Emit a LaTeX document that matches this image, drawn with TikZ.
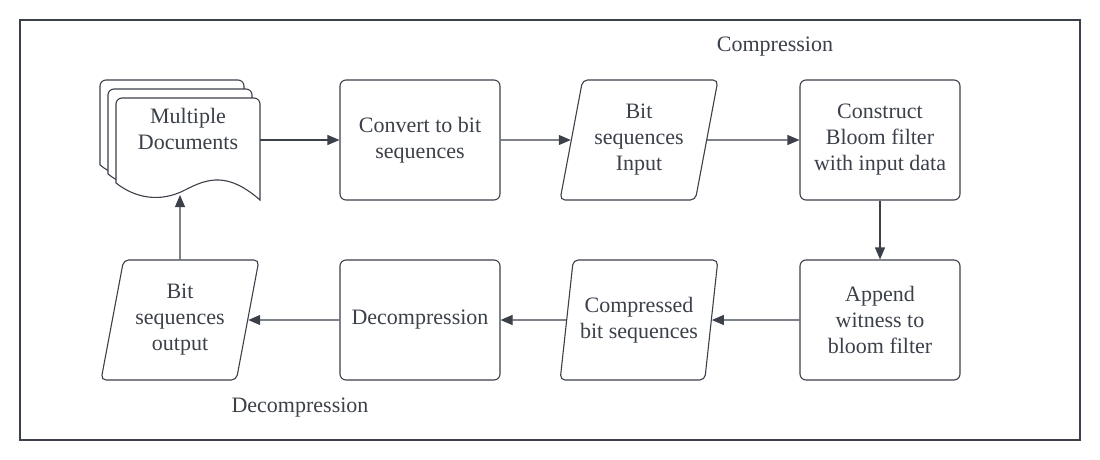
\documentclass[tikz,border=0pt]{standalone}
\usepackage{fontspec}
\setmainfont{Liberation Serif}
\usepackage{xcolor}
\usetikzlibrary{shapes,positioning,calc,arrows.meta}
\definecolor{ink}{HTML}{3B4049}

\tikzset{
    procbox/.style={draw=ink, line width=1.1pt, rounded corners=6pt, minimum width=160, minimum height=120, align=center, text=ink},
    iobox/.style={draw=ink, line width=1.1pt, trapezium, trapezium left angle=76, trapezium right angle=104, trapezium stretches=true, rounded corners=5pt, minimum width=158, minimum height=120, align=center, text=ink, inner sep=1pt},
    flow/.style={draw=ink, line width=1.1pt, -{Triangle[length=12pt,width=10pt]}}
}

\newcommand{\docpage}{%
    \filldraw[ink, fill=white, line width=1.1pt] (116,183) [rounded corners=6pt]-- (116,98) -- (260,98) [sharp corners]-- (260,200)
        .. controls (228,172) and (208,178) .. (185,190)
        .. controls (160,203) and (135,198) .. (116,183) -- cycle;
}

\begin{document}
\begin{tikzpicture}[x=1pt, y=-1pt, font=\fontsize{22}{26}\selectfont]
    \useasboundingbox (0,0) rectangle (1100,460);
    \draw[ink, line width=1.8pt] (20,20) rectangle (1080,440);

    % stacked documents
    \begin{scope}[shift={(-16,-18)}] \docpage \end{scope}
    \begin{scope}[shift={(-8,-9)}] \docpage \end{scope}
    \docpage
    \node[minimum width=144, minimum height=62, align=center, text=ink] (docs) at (188,129) {Multiple\\Documents};
    \coordinate (docbot) at (180,195);

    % top row
    \node[procbox] (conv) at (420,140) {Convert to bit\\sequences};
    \node[iobox] (bitin) at (639,140) {Bit\\sequences\\Input};
    \node[procbox] (bloom) at (880,140) {Construct\\Bloom filter\\with input data};

    % bottom row
    \node[procbox] (append) at (880,320) {Append\\witness to\\bloom filter};
    \node[iobox] (compr) at (639,320) {Compressed\\bit sequences};
    \node[procbox] (decomp) at (420,320) {Decompression};
    \node[iobox] (bitout) at (180,320) {Bit\\sequences\\output};

    \node[text=ink] (lblcomp) at (775,47) {Compression};
    \node[text=ink] (lbldecomp) at (300,408) {Decompression};

    \draw[flow] (docs.east |- conv.west) -- (conv.west);
    \draw[flow] (conv.east) -- (bitin.west);
    \draw[flow] (bitin.east) -- (bloom.west);
    \draw[flow] (bloom.south) -- (append.north);
    \draw[flow] (append.west) -- (compr.east);
    \draw[flow] (compr.west) -- (decomp.east);
    \draw[flow] (decomp.west) -- (bitout.east);
    \draw[flow] (bitout.north) -- (docbot);
\end{tikzpicture}
\end{document}
